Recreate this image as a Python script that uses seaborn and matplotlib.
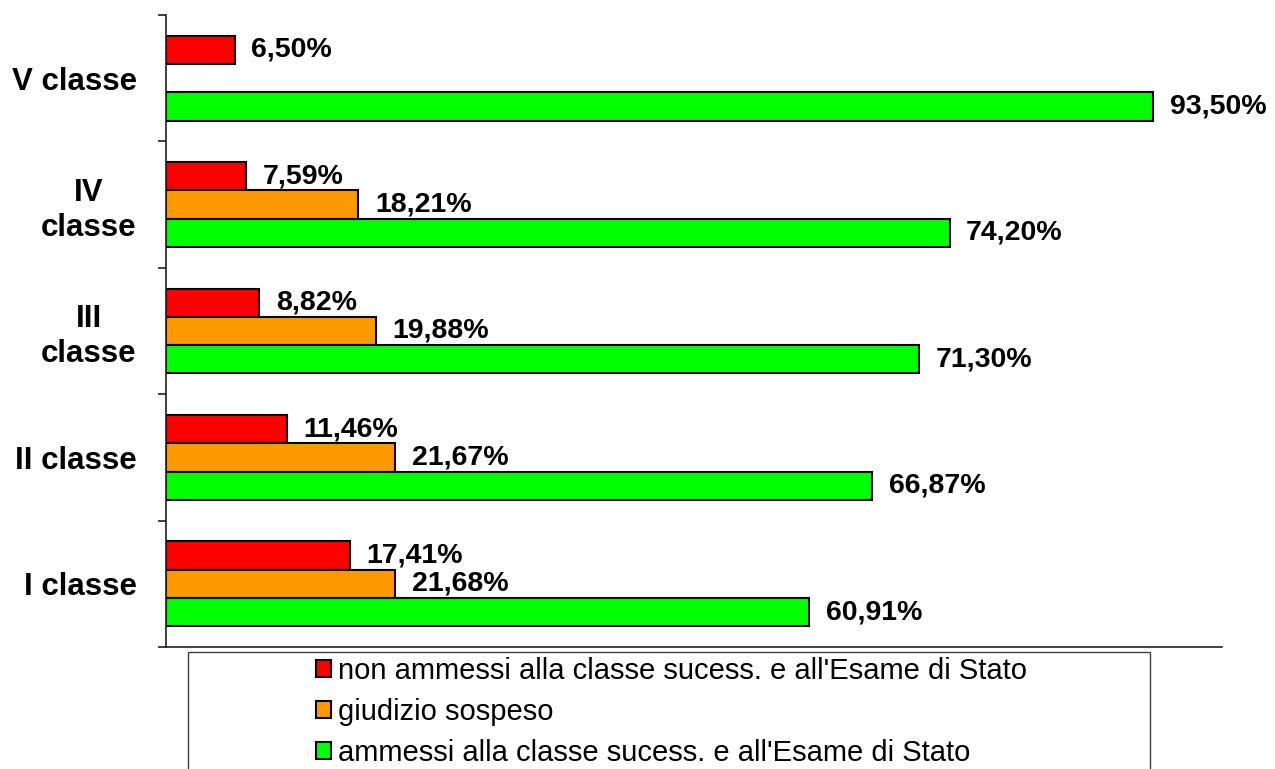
import numpy as np
import pandas as pd
import matplotlib
matplotlib.use("Agg")
import matplotlib.pyplot as plt
import matplotlib.patches as mpatches
import seaborn as sns

classi = ["V classe", "IV\nclasse", "III\nclasse", "II classe", "I classe"]
esiti = ["non ammessi alla classe sucess. e all'Esame di Stato",
         "giudizio sospeso",
         "ammessi alla classe sucess. e all'Esame di Stato"]
non_ammessi = [6.50, 7.59, 8.82, 11.46, 17.41]
giudizio_sospeso = [np.nan, 18.21, 19.88, 21.67, 21.68]
ammessi = [93.50, 74.20, 71.30, 66.87, 60.91]
colori = ["#FF0000", "#FF9900", "#00FF00"]

rows = []
for serie, valori in zip(esiti, [non_ammessi, giudizio_sospeso, ammessi]):
    for classe, valore in zip(classi, valori):
        rows.append({"classe": classe, "esito": serie, "percentuale": valore})
data = pd.DataFrame(rows).dropna()

sns.set_style("white")
plt.rcParams["font.family"] = ["Liberation Sans", "DejaVu Sans"]
plt.rcParams["text.color"] = "black"
plt.rcParams["ytick.color"] = "black"
plt.rcParams["ytick.labelcolor"] = "black"

fig = plt.figure(figsize=(12.75, 7.69), dpi=100)
ax = fig.add_axes([166 / 1275, 1 - 647 / 769, (1222 - 166) / 1275, (647 - 15) / 769])

sns.barplot(data=data,
            x="percentuale",
            y="classe",
            hue="esito",
            order=classi,
            hue_order=esiti,
            palette=colori,
            orient="h",
            width=0.67,
            errorbar=None,
            saturation=1,
            edgecolor="black",
            linewidth=1.5,
            ax=ax)

for container in ax.containers:
    ax.bar_label(container,
                 fmt=lambda v: f"{v:.2f}%".replace(".", ","),
                 padding=12,
                 fontsize=20.5,
                 fontweight="bold",
                 color="black")

handles, labels = ax.get_legend_handles_labels()
ax.get_legend().remove()

ax.set_xlim(0, 100)
ax.set_ylim(len(classi) - 0.5, -0.5)
ax.set(xlabel="", ylabel="", xticks=[])
ax.set_yticks(range(len(classi)))
ax.set_yticklabels(classi, fontsize=22.5, fontweight="bold", color="black")
for lab in ax.get_yticklabels():
    lab.set_multialignment("center")
ax.tick_params(axis="y", which="major", length=0, pad=21)
ax.set_yticks(np.arange(-0.5, len(classi)), minor=True)
ax.tick_params(axis="y", which="minor", length=6, width=1.2, direction="out",
               color="#202020", left=True)

ax.spines["top"].set_visible(False)
ax.spines["right"].set_visible(False)
for side in ["left", "bottom"]:
    ax.spines[side].set_color("#202020")
    ax.spines[side].set_linewidth(1.2)

fig.legend(handles, labels,
           loc="upper left",
           bbox_to_anchor=(316 / 1275, 1 - 657 / 769),
           frameon=False,
           fontsize=21,
           handlelength=0.5,
           handleheight=0.5,
           handletextpad=0.25,
           labelspacing=0.44,
           borderpad=0,
           borderaxespad=0)
fig.patches.append(mpatches.Rectangle((188 / 1275, -0.05), (1150 - 188) / 1275, 0.05 + 1 - 652 / 769,
                                      transform=fig.transFigure, fill=False,
                                      edgecolor="#404040", linewidth=1))

fig.savefig("out.png", dpi=100)
